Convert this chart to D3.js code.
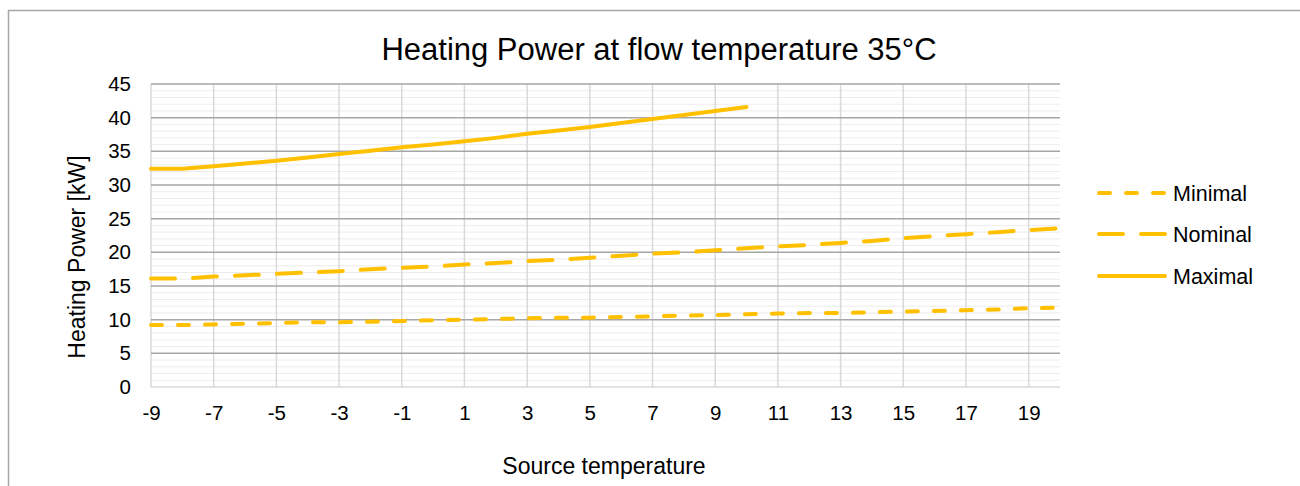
<!DOCTYPE html>
<html><head><meta charset="utf-8">
<script src="https://cdn.jsdelivr.net/npm/d3@7"></script>
<style>body{margin:0;background:#fff}svg{display:block}text{font-family:"Liberation Sans",Arial,sans-serif;fill:#000}</style>
</head><body><svg id="c" width="1300" height="486"></svg>
<script>
const temps = [-9,-8,-7,-6,-5,-4,-3,-2,-1,0,1,2,3,4,5,6,7,8,9,10,11,12,13,14,15,16,17,18,19,20];
const minimal = [9.2,9.2,9.3,9.4,9.5,9.6,9.6,9.7,9.8,9.9,10.0,10.1,10.2,10.3,10.3,10.4,10.5,10.6,10.7,10.8,10.9,11.0,11.0,11.1,11.2,11.3,11.4,11.5,11.7,11.8];
const nominal = [16.1,16.1,16.4,16.6,16.8,17.0,17.2,17.5,17.7,17.9,18.2,18.4,18.7,18.9,19.2,19.5,19.8,20.0,20.3,20.6,20.9,21.1,21.4,21.7,22.1,22.4,22.7,23.0,23.3,23.6];
const maximal = [32.4,32.4,32.8,33.2,33.6,34.1,34.6,35.1,35.6,36.0,36.5,37.0,37.6,38.1,38.6,39.2,39.8,40.4,41.0,41.6];
const xTicks = [-9,-7,-5,-3,-1,1,3,5,7,9,11,13,15,17,19];
const yTicks = [0,5,10,15,20,25,30,35,40,45];
const seriesNames = ["Minimal","Nominal","Maximal"];
const title = "Heating Power at flow temperature 35°C";
const xTitle = "Source temperature";
const yTitle = "Heating Power [kW]";

const svg = d3.select("#c");
const color = "#FFC000";
const L = 151, R = 1060, T = 84, B = 387;
const x = d3.scaleLinear().domain([-9,20]).range([L,R]);
const y = d3.scaleLinear().domain([0,45]).range([B,T]);

// outer frame
svg.append("path").attr("d",`M8.5,486 V10.5 H1300`).attr("fill","none").attr("stroke","#a6a6a6").attr("stroke-width",1.5);

// minor gridlines
const minor = d3.range(1,45).filter(v=>v%5!==0);
svg.append("g").selectAll("line").data(minor).join("line")
  .attr("x1",L).attr("x2",R).attr("y1",d=>y(d)).attr("y2",d=>y(d))
  .attr("stroke","#ececec").attr("stroke-width",1);
// vertical gridlines
svg.append("g").selectAll("line").data(xTicks).join("line")
  .attr("x1",d=>x(d)).attr("x2",d=>x(d)).attr("y1",T).attr("y2",B)
  .attr("stroke","#d9d9d9").attr("stroke-width",1.5);
// major horizontal
svg.append("g").selectAll("line").data(yTicks).join("line")
  .attr("x1",L).attr("x2",R).attr("y1",d=>y(d)).attr("y2",d=>y(d))
  .attr("stroke",d=>d===0?"#d9d9d9":"#a6a6a6").attr("stroke-width",1.5);

// axes
const yAxis = svg.append("g").attr("transform",`translate(${L},0)`)
  .call(d3.axisLeft(y).tickValues(yTicks).tickSize(0).tickPadding(20).tickFormat(d=>String(d)));
yAxis.select(".domain").remove();
yAxis.selectAll("text").attr("font-size",20.5).attr("font-family","Liberation Sans, Arial, sans-serif").attr("fill","#000");
const xAxis = svg.append("g").attr("transform",`translate(0,${B})`)
  .call(d3.axisBottom(x).tickValues(xTicks).tickSize(0).tickPadding(18).tickFormat(d=>String(d)));
xAxis.select(".domain").remove();
xAxis.selectAll("text").attr("font-size",20.5).attr("font-family","Liberation Sans, Arial, sans-serif").attr("fill","#000");

// lines
const line = d3.line().x((d,i)=>x(temps[i])).y(d=>y(d));
const dashes = ["11,16","24,18",null];
[minimal,nominal,maximal].forEach((s,k)=>{
  svg.append("path").datum(s).attr("d",line).attr("fill","none")
    .attr("stroke",color).attr("stroke-width",4).attr("stroke-linecap","round")
    .attr("stroke-linejoin","round")
    .attr("stroke-dasharray",dashes[k]);
});

// legend
const legY = [193,234,276];
seriesNames.forEach((n,k)=>{
  svg.append("line").attr("x1",1099).attr("x2",1165).attr("y1",legY[k]).attr("y2",legY[k])
    .attr("stroke",color).attr("stroke-width",4).attr("stroke-linecap","round")
    .attr("stroke-dasharray",dashes[k]);
  svg.append("text").attr("x",1173).attr("y",legY[k]).attr("dy","0.35em")
    .attr("font-size",21.5).text(n);
});

// titles
svg.append("text").attr("x",659).attr("y",60).attr("text-anchor","middle").attr("font-size",31).text(title);
svg.append("text").attr("x",604).attr("y",474).attr("text-anchor","middle").attr("font-size",23).text(xTitle);
svg.append("text").attr("transform","translate(85,257) rotate(-90)").attr("text-anchor","middle").attr("font-size",23).text(yTitle);
</script></body></html>
